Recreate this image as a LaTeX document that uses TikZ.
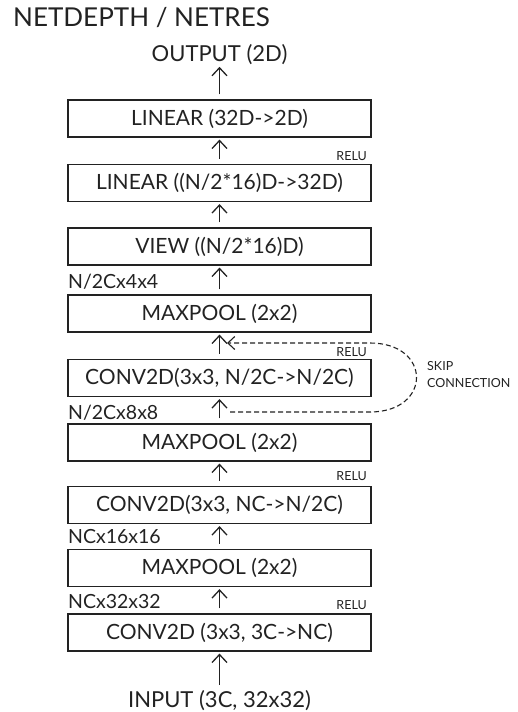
\documentclass[tikz,border=0pt]{standalone}
\usepackage{fontspec}
\setmainfont{Lato}
\usetikzlibrary{arrows.meta}
\definecolor{tratto}{HTML}{222222}

\tikzset{
  strato/.style={draw=tratto,text=tratto,line width=1.2pt,minimum width=303pt,
    minimum height=37pt,inner sep=0pt,font=\fontsize{21}{21}\selectfont},
  freccia/.style={draw=tratto,line width=1.4pt,
    -{Straight Barb[length=8pt,width=15pt,line width=1.3pt]}},
  dimlab/.style={anchor=base west,inner sep=0pt,text=tratto,font=\fontsize{19.5}{19.5}\selectfont},
  relu/.style={anchor=base east,inner sep=0pt,text=tratto,font=\fontsize{12.5}{12.5}\selectfont},
  capo/.style={inner sep=0pt,text=tratto,font=\fontsize{22}{22}\selectfont},
}

\begin{document}
\begin{tikzpicture}[x=1pt,y=-1pt]
\useasboundingbox (0,0) rectangle (518,712);

% Titolo
\node[anchor=base west,inner sep=0pt,text=tratto,font=\fontsize{26}{26}\selectfont]
  (titolo) at (13,27) {NETDEPTH / NETRES};

% Strati della rete
\node[capo] (uscita) at (219.5,54.5) {OUTPUT (2D)};
\node[strato] (l1) at (219.5,118.5) {LINEAR (32D->2D)};
\node[strato] (l2) at (219.5,183) {LINEAR ((N/2*16)D->32D)};
\node[strato] (l3) at (219.5,246.5) {VIEW ((N/2*16)D)};
\node[strato] (l4) at (219.5,313.5) {MAXPOOL (2x2)};
\node[strato] (l5) at (219.5,378) {CONV2D(3x3, N/2C->N/2C)};
\node[strato] (l6) at (219.5,442.5) {MAXPOOL (2x2)};
\node[strato] (l7) at (219.5,505) {CONV2D(3x3, NC->N/2C)};
\node[strato] (l8) at (219.5,568) {MAXPOOL (2x2)};
\node[strato] (l9) at (219.5,632.5) {CONV2D (3x3, 3C->NC)};
\node[capo] (ingresso) at (219.5,700.5) {INPUT (3C, 32x32)};

% Frecce
\foreach \a/\b in {ingresso/l9,l9/l8,l8/l7,l7/l6,l6/l5,l5/l4,l4/l3,l3/l2,l2/l1,l1/uscita}
    \draw[freccia] ([yshift=5pt]\a.north) -- ([yshift=-2pt]\b.south);

% Dimensioni
\node[dimlab] (d1) at (68,288) {N/2Cx4x4};
\node[dimlab] (d2) at (68,419) {N/2Cx8x8};
\node[dimlab] (d3) at (68,543) {NCx16x16};
\node[dimlab] (d4) at (68,608) {NCx32x32};

% ReLU
\node[relu] (r1) at (367,160) {RELU};
\node[relu] (r2) at (367,356) {RELU};
\node[relu] (r3) at (367,480) {RELU};
\node[relu] (r4) at (367,609) {RELU};

% Connessione residua
\coordinate (skipda) at (230,412);
\coordinate (skipa) at (227,343);
\draw[draw=tratto,line width=1.1pt,dash pattern=on 5pt off 3pt,
  -{Straight Barb[length=7pt,width=13pt,line width=1.1pt]}]
  (skipda) -- (370,412) .. controls (432,412) and (432,343) .. (370,343) -- (skipa);
\node[anchor=north west,align=left,inner sep=0pt,text=tratto,
  font=\fontsize{12.5}{17}\selectfont] (skip) at (427,361) {SKIP\\CONNECTION};
\end{tikzpicture}
\end{document}
